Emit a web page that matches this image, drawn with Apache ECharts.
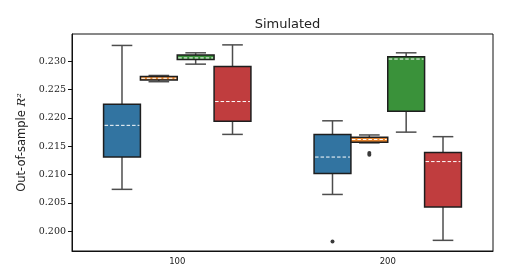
<!DOCTYPE html>
<html>
<head>
<meta charset="utf-8">
<script src="https://cdn.jsdelivr.net/npm/echarts@6/dist/echarts.min.js"></script>
<style>html,body{margin:0;padding:0;background:#fff}#c{width:509px;height:277px}</style>
</head>
<body>
<div id="c"></div>
<script>
// Categories on the x axis
const categories = ['100', '200'];
// y tick values
const yTicks = [0.200, 0.205, 0.210, 0.215, 0.220, 0.225, 0.230];
// Box stats per category: [min, q1, median, q3, max]
const blueStats = [
  [0.2074, 0.2131, 0.2187, 0.2224, 0.2328],
  [0.2065, 0.2102, 0.2131, 0.2171, 0.2195]
];
const orangeStats = [
  [0.2264, 0.2267, 0.2270, 0.2273, 0.2275],
  [0.2156, 0.2157, 0.2162, 0.2166, 0.2170]
];
const greenStats = [
  [0.2295, 0.2303, 0.2306, 0.2311, 0.2315],
  [0.2175, 0.2212, 0.2304, 0.2308, 0.2315]
];
const redStats = [
  [0.2171, 0.2194, 0.2229, 0.2291, 0.2329],
  [0.1984, 0.2043, 0.2123, 0.2139, 0.2167]
];
// Outliers: [categoryIndex, value]
const blueOutliers = [[1, 0.1982]];
const orangeOutliers = [[1, 0.2138], [1, 0.2135]];
const greenOutliers = [];
const redOutliers = [];

const colors = ['#3274a1', '#e1812c', '#3a923a', '#c03d3e'];
const names = ['Blue', 'Orange', 'Green', 'Red'];
const statsList = [blueStats, orangeStats, greenStats, redStats];
const outList = [blueOutliers, orangeOutliers, greenOutliers, redOutliers];

const GROUP = 0.7;
function boxRender(slot, color) {
  return function (params, api) {
    const cat = api.value(0);
    const band = api.size([1, 0])[0];
    const w = band * GROUP / 4;
    const cx = api.coord([cat, api.value(3)])[0] + (slot - 1.5) * w;
    const y = i => api.coord([cat, api.value(i)])[1];
    const yMin = y(1), yQ1 = y(2), yMed = y(3), yQ3 = y(4), yMax = y(5);
    const capHalf = w * 0.28;
    const ws = { stroke: '#4d4d4d', lineWidth: 1.5 };
    return {
      type: 'group',
      children: [
        { type: 'line', shape: { x1: cx, y1: yQ3, x2: cx, y2: yMax }, style: ws },
        { type: 'line', shape: { x1: cx, y1: yQ1, x2: cx, y2: yMin }, style: ws },
        { type: 'line', shape: { x1: cx - capHalf, y1: yMax, x2: cx + capHalf, y2: yMax }, style: ws },
        { type: 'line', shape: { x1: cx - capHalf, y1: yMin, x2: cx + capHalf, y2: yMin }, style: ws },
        { type: 'rect', shape: { x: cx - w / 2, y: yQ3, width: w, height: yQ1 - yQ3 },
          style: { fill: color, stroke: '#1e1e1e', lineWidth: 1.5 } },
        { type: 'line', shape: { x1: cx - w / 2 + 1, y1: yMed, x2: cx + w / 2 - 1, y2: yMed },
          style: { stroke: '#ffffff', lineWidth: 1, lineDash: [3.5, 2] } }
      ]
    };
  };
}
function outRender(slot) {
  return function (params, api) {
    const cat = api.value(0);
    const band = api.size([1, 0])[0];
    const w = band * GROUP / 4;
    const p = api.coord([cat, api.value(1)]);
    return { type: 'circle', shape: { cx: p[0] + (slot - 1.5) * w, cy: p[1], r: 2 },
      style: { fill: '#3a3a3a' } };
  };
}

const series = [];
statsList.forEach((st, k) => {
  series.push({
    type: 'custom', name: names[k],
    renderItem: boxRender(k, colors[k]),
    encode: { x: 0, y: [1, 2, 3, 4, 5] },
    data: st.map((s, i) => [i].concat(s)),
    z: 2
  });
  if (outList[k].length) {
    series.push({
      type: 'custom', name: names[k] + ' outliers',
      renderItem: outRender(k),
      encode: { x: 0, y: 1 },
      data: outList[k],
      z: 3
    });
  }
});

const chart = echarts.init(document.getElementById('c'), null, { renderer: 'canvas' });
chart.setOption({
  animation: false,
  backgroundColor: '#fff',
  title: {
    text: 'Simulated', left: 282.5, top: 13, textAlign: 'center',
    textStyle: { fontFamily: 'DejaVu Sans', fontSize: 13, fontWeight: 'normal', color: '#222' }
  },
  grid: { left: 72, right: 16, top: 34, bottom: 26, show: true, borderColor: '#111', borderWidth: 1 },
  xAxis: {
    type: 'category', data: categories, boundaryGap: true,
    axisLine: { lineStyle: { color: '#111', width: 1 } },
    axisTick: { alignWithLabel: true, length: 4, lineStyle: { color: '#111' } },
    axisLabel: { fontFamily: 'DejaVu Sans', fontSize: 8.5, color: '#222', margin: 6 },
    splitLine: { show: false }
  },
  yAxis: {
    type: 'value', min: 0.19652, max: 0.23482,
    axisLine: { show: true, lineStyle: { color: '#111', width: 1 } },
    axisTick: { show: true, length: 4, customValues: yTicks, lineStyle: { color: '#111' } },
    axisLabel: { customValues: yTicks, fontFamily: 'DejaVu Serif', fontSize: 9.5, color: '#222', margin: 6,
      formatter: v => v.toFixed(3) },
    splitLine: { show: false },
    name: '{a|Out-of-sample }{r|R²}',
    nameLocation: 'middle', nameGap: 43,
    nameTextStyle: {
      rich: {
        a: { fontFamily: 'DejaVu Sans', fontSize: 11.5, color: '#222' },
        r: { fontFamily: 'DejaVu Serif', fontStyle: 'italic', fontSize: 11.5, color: '#222' }
      }
    }
  },
  series: series
});
</script>
</body>
</html>
